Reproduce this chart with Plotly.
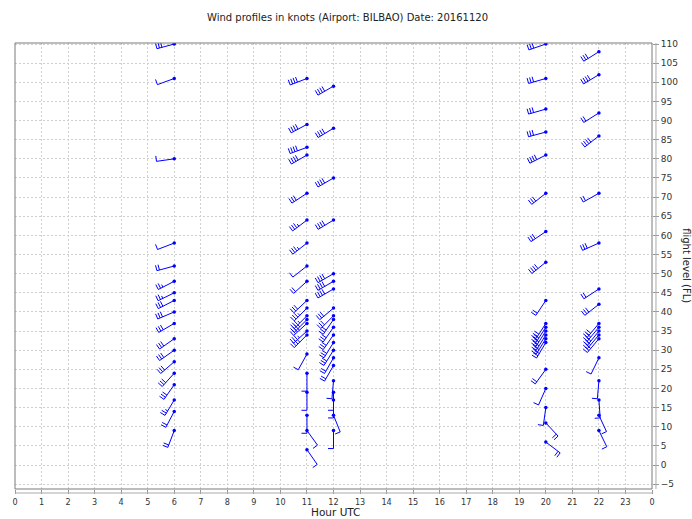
import math
import plotly.graph_objects as go

# ---------------- data ----------------
hours = [6]*18 + [11]*22 + [12]*21 + [20]*20 + [22]*18
flight_levels = [
    110, 101, 80, 58, 52, 48, 45, 43, 40, 37, 33, 30, 27, 24, 21, 17, 14, 9,
    101, 89, 83, 81, 71, 64, 58, 52, 48, 43, 41, 39, 38, 37, 35, 34, 29, 24, 19, 13, 9, 4,
    99, 88, 75, 64, 50, 48, 46, 41, 39, 38, 36, 34, 32, 28, 22, 19, 17, 13, 9, 30, 26,
    110, 101, 93, 87, 81, 71, 61, 53, 43, 37, 36, 35, 34, 32, 25, 20, 15, 11, 6, 33,
    108, 102, 92, 86, 71, 58, 46, 42, 37, 36, 35, 34, 28, 22, 17, 13, 9, 33,
]
wind_dir = [
    255, 250, 262, 249, 255, 243, 244, 243, 247, 240, 235, 235, 229, 222, 215, 211, 208, 201,
    249, 242, 250, 240, 237, 233, 232, 232, 228, 227, 225, 225, 225, 228, 228, 225, 209, 180, 180, 180, 144, 145,
    240, 239, 240, 239, 240, 240, 240, 230, 225, 215, 215, 215, 212, 210, 185, 180, 180, 158, 180, 212, 210,
    251, 254, 254, 255, 243, 232, 236, 231, 214, 213, 213, 213, 212, 211, 216, 204, 188, 137, 127, 212,
    238, 239, 238, 232, 241, 246, 237, 232, 220, 220, 219, 220, 206, 185, 176, 155, 154, 220,
]
wind_speed = [
    30, 10, 10, 10, 20, 25, 25, 30, 30, 30, 30, 30, 30, 30, 30, 25, 20, 20,
    40, 40, 40, 40, 30, 35, 35, 10, 20, 30, 35, 35, 35, 35, 35, 35, 10, 10, 10, 10, 10, 10,
    40, 40, 40, 40, 40, 40, 40, 30, 30, 30, 30, 30, 30, 20, 10, 10, 10, 10, 10, 30, 20,
    30, 30, 30, 30, 40, 30, 30, 40, 20, 30, 30, 30, 30, 30, 20, 10, 10, 20, 20, 30,
    30, 40, 20, 40, 20, 30, 20, 30, 30, 30, 30, 30, 10, 10, 10, 10, 10, 30,
]

x_ticks = list(range(0, 25))
x_tick_labels = [str(h % 24) for h in x_ticks]
y_ticks = list(range(-5, 111, 5))

# ---------------- layout geometry ----------------
W, H = 692, 519
ML, MR, MT, MB = 12, 40, 43, 30
PW, PH = W - ML - MR, H - MT - MB
x_range = [0, 24]
y_range = [-6.27, 110.27]
kx = PW / (x_range[1] - x_range[0])   # px per hour
ky = PH / (y_range[1] - y_range[0])   # px per FL

STAFF, BARB, SPACE = 18.0, 5.5, 2.6

bx, by = [], []
for h, fl, d, s in zip(hours, flight_levels, wind_dir, wind_speed):
    r = math.radians(d)
    ux, uy = math.sin(r), math.cos(r)
    vx, vy = math.sin(r + math.pi / 2), math.cos(r + math.pi / 2)
    bx += [h, h + ux * STAFF / kx, None]
    by += [fl, fl + uy * STAFF / ky, None]
    full = int(s // 10)
    half = (s % 10) >= 5
    pos = STAFF
    for i in range(full):
        px, py = ux * pos, uy * pos
        bx += [h + px / kx, h + (px + vx * BARB) / kx, None]
        by += [fl + py / ky, fl + (py + vy * BARB) / ky, None]
        pos -= SPACE
    if half:
        px, py = ux * pos, uy * pos
        bx += [h + px / kx, h + (px + vx * BARB / 2) / kx, None]
        by += [fl + py / ky, fl + (py + vy * BARB / 2) / ky, None]

fig = go.Figure()
fig.add_trace(go.Scatter(x=bx, y=by, mode="lines",
                         line=dict(color="#0000ff", width=1), hoverinfo="skip",
                         showlegend=False))
fig.add_trace(go.Scatter(x=hours, y=flight_levels, mode="markers",
                         marker=dict(color="#0000ff", size=3.5, symbol="circle"),
                         showlegend=False))

grid = "#cfcfcf"
fig.update_layout(
    width=W, height=H,
    margin=dict(l=ML, r=MR, t=MT, b=MB),
    paper_bgcolor="white", plot_bgcolor="white",
    font=dict(family="DejaVu Sans", size=9, color="#333333"),
    xaxis=dict(range=x_range, tickmode="array", tickvals=x_ticks, ticktext=x_tick_labels,
               showgrid=True, gridcolor=grid, griddash="2px,2px", gridwidth=1,
               zeroline=False, showline=False, ticks="outside", ticklen=4,
               tickcolor="#999999", tickfont=dict(size=9, family="DejaVu Sans Condensed")),
    yaxis=dict(range=y_range, side="right", tickmode="array", tickvals=y_ticks,
               showgrid=True, gridcolor=grid, griddash="2px,2px", gridwidth=1,
               zeroline=False, showline=False, ticks="outside", ticklen=6,
               tickcolor="#999999", tickfont=dict(size=9, family="DejaVu Sans")),
    shapes=[
        dict(type="rect", xref="paper", yref="paper", x0=0, x1=1, y0=0, y1=1,
             line=dict(color="#7a7a7a", width=1)),
        dict(type="line", xref="paper", yref="paper", x0=0, x1=1,
             y0=-4 / PH, y1=-4 / PH, line=dict(color="#aaaaaa", width=1)),
        dict(type="line", xref="paper", yref="paper", x0=1 + 4 / PW, x1=1 + 4 / PW,
             y0=0, y1=1, line=dict(color="#aaaaaa", width=1)),
    ],
    annotations=[
        dict(text="Wind profiles in knots (Airport: BILBAO) Date: 20161120",
             xref="paper", yref="paper", x=(346 - ML) / PW, y=(H - MB - 17) / PH,
             xanchor="center", yanchor="middle", showarrow=False,
             font=dict(size=10, family="DejaVu Sans", color="#222222")),
        dict(text="Hour UTC", xref="paper", yref="paper", x=(334 - ML) / PW,
             y=-(519 - (H - MB)) / PH, xanchor="center", yanchor="bottom",
             showarrow=False, borderpad=0,
             font=dict(size=10.5, family="DejaVu Sans", color="#222222")),
        dict(text="flight level (FL)", xref="paper", yref="paper", x=(687 - ML) / PW,
             y=(H - MB - 266) / PH, xanchor="center", yanchor="middle", textangle=90,
             showarrow=False, font=dict(size=10, family="DejaVu Sans", color="#222222")),
    ],
)

fig.write_html("out.html")
